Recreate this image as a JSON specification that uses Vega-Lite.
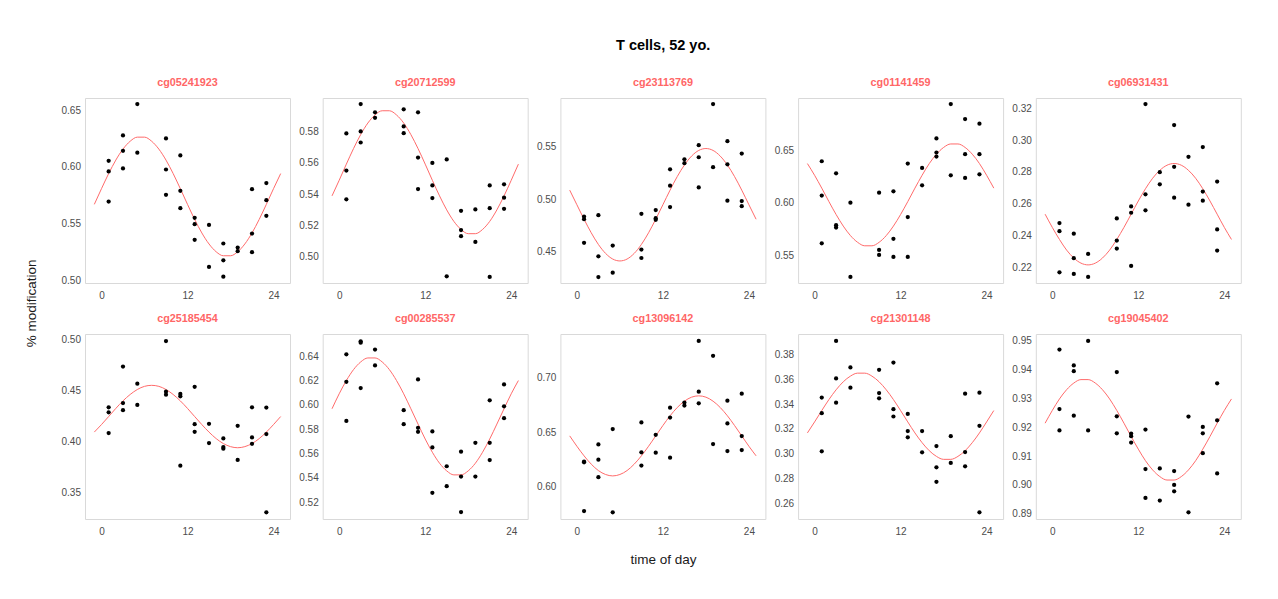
{
  "$schema": "https://vega.github.io/schema/vega-lite/v6.json",
  "padding": {"left": 24, "top": 38, "right": 5, "bottom": 5},
  "background": "#ffffff",
  "title": {"text": "T cells, 52 yo.", "anchor": "middle", "fontSize": 14.5, "fontWeight": "bold", "color": "#000000", "font": "Liberation Sans", "offset": 12, "baseline": "alphabetic", "dx": 30},
  "datasets": {
    "curves": [
      {"t": -1, "cg05241923": 0.5669, "cg20712599": 0.5388, "cg23113769": 0.5085, "cg01141459": 0.6373, "cg06931431": 0.2534, "cg25185454": 0.4094, "cg00285537": 0.5968, "cg13096142": 0.6467, "cg21301148": 0.3168, "cg19045402": 0.9214},
      {"t": 0, "cg05241923": 0.5807, "cg20712599": 0.5488, "cg23113769": 0.4946, "cg01141459": 0.6262, "cg06931431": 0.2451, "cg25185454": 0.4168, "cg00285537": 0.6091, "cg13096142": 0.6372, "cg21301148": 0.3257, "cg19045402": 0.9258},
      {"t": 1, "cg05241923": 0.5940, "cg20712599": 0.5592, "cg23113769": 0.4808, "cg01141459": 0.6140, "cg06931431": 0.2375, "cg25185454": 0.4247, "cg00285537": 0.6200, "cg13096142": 0.6284, "cg21301148": 0.3349, "cg19045402": 0.9298},
      {"t": 2, "cg05241923": 0.6059, "cg20712599": 0.5692, "cg23113769": 0.4679, "cg01141459": 0.6012, "cg06931431": 0.2308, "cg25185454": 0.4327, "cg00285537": 0.6290, "cg13096142": 0.6208, "cg21301148": 0.3438, "cg19045402": 0.9330},
      {"t": 3, "cg05241923": 0.6156, "cg20712599": 0.5782, "cg23113769": 0.4568, "cg01141459": 0.5890, "cg06931431": 0.2258, "cg25185454": 0.4401, "cg00285537": 0.6353, "cg13096142": 0.6149, "cg21301148": 0.3517, "cg19045402": 0.9353},
      {"t": 4, "cg05241923": 0.6225, "cg20712599": 0.5856, "cg23113769": 0.4483, "cg01141459": 0.5780, "cg06931431": 0.2226, "cg25185454": 0.4464, "cg00285537": 0.6386, "cg13096142": 0.6113, "cg21301148": 0.3582, "cg19045402": 0.9365},
      {"t": 5, "cg05241923": 0.6261, "cg20712599": 0.5908, "cg23113769": 0.4429, "cg01141459": 0.5690, "cg06931431": 0.2215, "cg25185454": 0.4513, "cg00285537": 0.6386, "cg13096142": 0.6100, "cg21301148": 0.3628, "cg19045402": 0.9365},
      {"t": 6, "cg05241923": 0.6261, "cg20712599": 0.5935, "cg23113769": 0.4411, "cg01141459": 0.5626, "cg06931431": 0.2226, "cg25185454": 0.4544, "cg00285537": 0.6353, "cg13096142": 0.6113, "cg21301148": 0.3652, "cg19045402": 0.9353},
      {"t": 7, "cg05241923": 0.6225, "cg20712599": 0.5935, "cg23113769": 0.4429, "cg01141459": 0.5593, "cg06931431": 0.2258, "cg25185454": 0.4554, "cg00285537": 0.6290, "cg13096142": 0.6149, "cg21301148": 0.3652, "cg19045402": 0.9330},
      {"t": 8, "cg05241923": 0.6156, "cg20712599": 0.5908, "cg23113769": 0.4483, "cg01141459": 0.5593, "cg06931431": 0.2308, "cg25185454": 0.4544, "cg00285537": 0.6200, "cg13096142": 0.6208, "cg21301148": 0.3628, "cg19045402": 0.9298},
      {"t": 9, "cg05241923": 0.6059, "cg20712599": 0.5856, "cg23113769": 0.4568, "cg01141459": 0.5626, "cg06931431": 0.2375, "cg25185454": 0.4513, "cg00285537": 0.6091, "cg13096142": 0.6284, "cg21301148": 0.3582, "cg19045402": 0.9258},
      {"t": 10, "cg05241923": 0.5940, "cg20712599": 0.5782, "cg23113769": 0.4679, "cg01141459": 0.5690, "cg06931431": 0.2451, "cg25185454": 0.4464, "cg00285537": 0.5968, "cg13096142": 0.6372, "cg21301148": 0.3517, "cg19045402": 0.9214},
      {"t": 11, "cg05241923": 0.5807, "cg20712599": 0.5692, "cg23113769": 0.4808, "cg01141459": 0.5780, "cg06931431": 0.2534, "cg25185454": 0.4401, "cg00285537": 0.5842, "cg13096142": 0.6467, "cg21301148": 0.3438, "cg19045402": 0.9168},
      {"t": 12, "cg05241923": 0.5669, "cg20712599": 0.5592, "cg23113769": 0.4946, "cg01141459": 0.5890, "cg06931431": 0.2617, "cg25185454": 0.4327, "cg00285537": 0.5719, "cg13096142": 0.6562, "cg21301148": 0.3349, "cg19045402": 0.9124},
      {"t": 13, "cg05241923": 0.5536, "cg20712599": 0.5488, "cg23113769": 0.5085, "cg01141459": 0.6012, "cg06931431": 0.2694, "cg25185454": 0.4247, "cg00285537": 0.5610, "cg13096142": 0.6651, "cg21301148": 0.3257, "cg19045402": 0.9084},
      {"t": 14, "cg05241923": 0.5417, "cg20712599": 0.5388, "cg23113769": 0.5214, "cg01141459": 0.6140, "cg06931431": 0.2760, "cg25185454": 0.4168, "cg00285537": 0.5520, "cg13096142": 0.6727, "cg21301148": 0.3168, "cg19045402": 0.9052},
      {"t": 15, "cg05241923": 0.5320, "cg20712599": 0.5298, "cg23113769": 0.5324, "cg01141459": 0.6262, "cg06931431": 0.2810, "cg25185454": 0.4094, "cg00285537": 0.5457, "cg13096142": 0.6785, "cg21301148": 0.3089, "cg19045402": 0.9029},
      {"t": 16, "cg05241923": 0.5251, "cg20712599": 0.5224, "cg23113769": 0.5409, "cg01141459": 0.6373, "cg06931431": 0.2842, "cg25185454": 0.4030, "cg00285537": 0.5424, "cg13096142": 0.6822, "cg21301148": 0.3024, "cg19045402": 0.9017},
      {"t": 17, "cg05241923": 0.5216, "cg20712599": 0.5172, "cg23113769": 0.5463, "cg01141459": 0.6462, "cg06931431": 0.2853, "cg25185454": 0.3981, "cg00285537": 0.5424, "cg13096142": 0.6834, "cg21301148": 0.2978, "cg19045402": 0.9017},
      {"t": 18, "cg05241923": 0.5216, "cg20712599": 0.5145, "cg23113769": 0.5481, "cg01141459": 0.6526, "cg06931431": 0.2842, "cg25185454": 0.3951, "cg00285537": 0.5457, "cg13096142": 0.6822, "cg21301148": 0.2954, "cg19045402": 0.9029},
      {"t": 19, "cg05241923": 0.5251, "cg20712599": 0.5145, "cg23113769": 0.5463, "cg01141459": 0.6559, "cg06931431": 0.2810, "cg25185454": 0.3940, "cg00285537": 0.5520, "cg13096142": 0.6785, "cg21301148": 0.2954, "cg19045402": 0.9052},
      {"t": 20, "cg05241923": 0.5320, "cg20712599": 0.5172, "cg23113769": 0.5409, "cg01141459": 0.6559, "cg06931431": 0.2760, "cg25185454": 0.3951, "cg00285537": 0.5610, "cg13096142": 0.6727, "cg21301148": 0.2978, "cg19045402": 0.9084},
      {"t": 21, "cg05241923": 0.5417, "cg20712599": 0.5224, "cg23113769": 0.5324, "cg01141459": 0.6526, "cg06931431": 0.2694, "cg25185454": 0.3981, "cg00285537": 0.5719, "cg13096142": 0.6651, "cg21301148": 0.3024, "cg19045402": 0.9124},
      {"t": 22, "cg05241923": 0.5536, "cg20712599": 0.5298, "cg23113769": 0.5214, "cg01141459": 0.6462, "cg06931431": 0.2617, "cg25185454": 0.4030, "cg00285537": 0.5842, "cg13096142": 0.6562, "cg21301148": 0.3089, "cg19045402": 0.9168},
      {"t": 23, "cg05241923": 0.5669, "cg20712599": 0.5388, "cg23113769": 0.5085, "cg01141459": 0.6373, "cg06931431": 0.2534, "cg25185454": 0.4094, "cg00285537": 0.5968, "cg13096142": 0.6467, "cg21301148": 0.3168, "cg19045402": 0.9214},
      {"t": 24, "cg05241923": 0.5807, "cg20712599": 0.5488, "cg23113769": 0.4946, "cg01141459": 0.6262, "cg06931431": 0.2451, "cg25185454": 0.4168, "cg00285537": 0.6091, "cg13096142": 0.6372, "cg21301148": 0.3257, "cg19045402": 0.9258},
      {"t": 25, "cg05241923": 0.5940, "cg20712599": 0.5592, "cg23113769": 0.4808, "cg01141459": 0.6140, "cg06931431": 0.2375, "cg25185454": 0.4247, "cg00285537": 0.6200, "cg13096142": 0.6284, "cg21301148": 0.3349, "cg19045402": 0.9298}
    ],
    "points": [
      {"t": 1, "cg05241923": 0.6053, "cg20712599": 0.5789, "cg23113769": 0.4834, "cg01141459": 0.6395, "cg06931431": 0.2478, "cg25185454": 0.4338, "cg00285537": 0.6416, "cg13096142": 0.6231, "cg21301148": 0.3454, "cg19045402": 0.9469},
      {"t": 1, "cg05241923": 0.5959, "cg20712599": 0.5551, "cg23113769": 0.4809, "cg01141459": 0.6070, "cg06931431": 0.2427, "cg25185454": 0.4289, "cg00285537": 0.6190, "cg13096142": 0.6225, "cg21301148": 0.3328, "cg19045402": 0.9263},
      {"t": 1, "cg05241923": 0.5694, "cg20712599": 0.5366, "cg23113769": 0.4583, "cg01141459": 0.5617, "cg06931431": 0.2168, "cg25185454": 0.4084, "cg00285537": 0.5868, "cg13096142": 0.5778, "cg21301148": 0.3019, "cg19045402": 0.9189},
      {"t": 3, "cg05241923": 0.6276, "cg20712599": 0.5978, "cg23113769": 0.4847, "cg01141459": 0.6281, "cg06931431": 0.2411, "cg25185454": 0.4739, "cg00285537": 0.6523, "cg13096142": 0.6389, "cg21301148": 0.3913, "cg19045402": 0.9414},
      {"t": 3, "cg05241923": 0.6141, "cg20712599": 0.5802, "cg23113769": 0.4455, "cg01141459": 0.5789, "cg06931431": 0.2257, "cg25185454": 0.4380, "cg00285537": 0.6512, "cg13096142": 0.6249, "cg21301148": 0.3609, "cg19045402": 0.9394},
      {"t": 3, "cg05241923": 0.5985, "cg20712599": 0.5731, "cg23113769": 0.4258, "cg01141459": 0.5766, "cg06931431": 0.2158, "cg25185454": 0.4309, "cg00285537": 0.6138, "cg13096142": 0.6088, "cg21301148": 0.3413, "cg19045402": 0.9240},
      {"t": 5, "cg05241923": 0.6553, "cg20712599": 0.5925, "cg23113769": 0.4557, "cg01141459": 0.6002, "cg06931431": 0.2284, "cg25185454": 0.4570, "cg00285537": 0.6455, "cg13096142": 0.6529, "cg21301148": 0.3698, "cg19045402": 0.9499},
      {"t": 5, "cg05241923": 0.6124, "cg20712599": 0.5890, "cg23113769": 0.4299, "cg01141459": 0.5297, "cg06931431": 0.2139, "cg25185454": 0.4361, "cg00285537": 0.6324, "cg13096142": 0.5766, "cg21301148": 0.3534, "cg19045402": 0.9189},
      {"t": 9, "cg05241923": 0.6250, "cg20712599": 0.5944, "cg23113769": 0.4860, "cg01141459": 0.6097, "cg06931431": 0.2507, "cg25185454": 0.4990, "cg00285537": 0.5956, "cg13096142": 0.6590, "cg21301148": 0.3679, "cg19045402": 0.9391},
      {"t": 9, "cg05241923": 0.5976, "cg20712599": 0.5834, "cg23113769": 0.4519, "cg01141459": 0.5554, "cg06931431": 0.2368, "cg25185454": 0.4491, "cg00285537": 0.5841, "cg13096142": 0.6316, "cg21301148": 0.3491, "cg19045402": 0.9238},
      {"t": 9, "cg05241923": 0.5753, "cg20712599": 0.5791, "cg23113769": 0.4439, "cg01141459": 0.5506, "cg06931431": 0.2318, "cg25185454": 0.4462, "cg00285537": null, "cg13096142": 0.6195, "cg21301148": 0.3448, "cg19045402": 0.9179},
      {"t": 11, "cg05241923": 0.6100, "cg20712599": 0.5925, "cg23113769": 0.4895, "cg01141459": 0.6110, "cg06931431": 0.2583, "cg25185454": 0.4469, "cg00285537": 0.6209, "cg13096142": 0.6477, "cg21301148": 0.3738, "cg19045402": 0.9178},
      {"t": 11, "cg05241923": 0.5788, "cg20712599": 0.5634, "cg23113769": 0.4818, "cg01141459": 0.5659, "cg06931431": 0.2543, "cg25185454": 0.4446, "cg00285537": 0.5811, "cg13096142": 0.6313, "cg21301148": 0.3360, "cg19045402": 0.9169},
      {"t": 11, "cg05241923": 0.5635, "cg20712599": 0.5432, "cg23113769": 0.4803, "cg01141459": 0.5487, "cg06931431": 0.2208, "cg25185454": 0.3764, "cg00285537": 0.5778, "cg13096142": null, "cg21301148": 0.3301, "cg19045402": 0.9147},
      {"t": 13, "cg05241923": 0.5550, "cg20712599": 0.5600, "cg23113769": 0.5283, "cg01141459": 0.6373, "cg06931431": 0.3227, "cg25185454": 0.4540, "cg00285537": 0.5781, "cg13096142": 0.6726, "cg21301148": 0.3322, "cg19045402": 0.9192},
      {"t": 13, "cg05241923": 0.5494, "cg20712599": 0.5455, "cg23113769": 0.5127, "cg01141459": 0.5865, "cg06931431": 0.2659, "cg25185454": 0.4172, "cg00285537": 0.5650, "cg13096142": 0.6635, "cg21301148": 0.3183, "cg19045402": 0.9055},
      {"t": 13, "cg05241923": 0.5356, "cg20712599": 0.5374, "cg23113769": 0.4924, "cg01141459": 0.5487, "cg06931431": 0.2558, "cg25185454": 0.4097, "cg00285537": 0.5276, "cg13096142": 0.6267, "cg21301148": 0.3132, "cg19045402": 0.8955},
      {"t": 15, "cg05241923": 0.5488, "cg20712599": 0.5622, "cg23113769": 0.5379, "cg01141459": 0.6332, "cg06931431": 0.2798, "cg25185454": 0.4175, "cg00285537": 0.5495, "cg13096142": 0.6772, "cg21301148": 0.3183, "cg19045402": 0.9057},
      {"t": 15, "cg05241923": 0.5118, "cg20712599": 0.4871, "cg23113769": 0.5341, "cg01141459": 0.6167, "cg06931431": 0.2722, "cg25185454": 0.3986, "cg00285537": 0.5331, "cg13096142": 0.6745, "cg21301148": 0.3011, "cg19045402": 0.8946},
      {"t": 17, "cg05241923": 0.5324, "cg20712599": 0.5292, "cg23113769": 0.5513, "cg01141459": 0.6611, "cg06931431": 0.3095, "cg25185454": 0.4032, "cg00285537": 0.5615, "cg13096142": 0.7337, "cg21301148": 0.3062, "cg19045402": 0.9048},
      {"t": 17, "cg05241923": 0.5176, "cg20712599": 0.5168, "cg23113769": 0.5398, "cg01141459": 0.6478, "cg06931431": 0.2832, "cg25185454": 0.3947, "cg00285537": 0.5410, "cg13096142": 0.6872, "cg21301148": 0.2890, "cg19045402": 0.9000},
      {"t": 17, "cg05241923": 0.5032, "cg20712599": 0.5129, "cg23113769": 0.5111, "cg01141459": 0.6440, "cg06931431": 0.2638, "cg25185454": 0.3931, "cg00285537": 0.5118, "cg13096142": 0.6766, "cg21301148": 0.2772, "cg19045402": 0.8978},
      {"t": 19, "cg05241923": 0.5288, "cg20712599": 0.5301, "cg23113769": 0.5904, "cg01141459": 0.6938, "cg06931431": 0.2895, "cg25185454": 0.4156, "cg00285537": 0.5688, "cg13096142": 0.7201, "cg21301148": 0.3142, "cg19045402": 0.9237},
      {"t": 19, "cg05241923": 0.5256, "cg20712599": 0.5092, "cg23113769": 0.5303, "cg01141459": 0.6262, "cg06931431": 0.2594, "cg25185454": 0.3820, "cg00285537": 0.5410, "cg13096142": 0.6392, "cg21301148": 0.2925, "cg19045402": 0.8905},
      {"t": 21, "cg05241923": 0.5803, "cg20712599": 0.5455, "cg23113769": 0.5551, "cg01141459": 0.6795, "cg06931431": 0.2956, "cg25185454": 0.4338, "cg00285537": 0.6037, "cg13096142": 0.6790, "cg21301148": 0.3486, "cg19045402": 0.9201},
      {"t": 21, "cg05241923": 0.5412, "cg20712599": 0.5309, "cg23113769": 0.5331, "cg01141459": 0.6462, "cg06931431": 0.2676, "cg25185454": 0.4041, "cg00285537": 0.5688, "cg13096142": 0.6581, "cg21301148": 0.3013, "cg19045402": 0.9179},
      {"t": 21, "cg05241923": 0.5247, "cg20712599": 0.4867, "cg23113769": 0.4984, "cg01141459": 0.6237, "cg06931431": 0.2619, "cg25185454": 0.3979, "cg00285537": 0.5546, "cg13096142": 0.6328, "cg21301148": 0.2898, "cg19045402": 0.9110},
      {"t": 23, "cg05241923": 0.5856, "cg20712599": 0.5462, "cg23113769": 0.5433, "cg01141459": 0.6751, "cg06931431": 0.2739, "cg25185454": 0.4335, "cg00285537": 0.6168, "cg13096142": 0.6854, "cg21301148": 0.3494, "cg19045402": 0.9352},
      {"t": 23, "cg05241923": 0.5706, "cg20712599": 0.5376, "cg23113769": 0.4981, "cg01141459": 0.6462, "cg06931431": 0.2438, "cg25185454": 0.4074, "cg00285537": 0.5988, "cg13096142": 0.6465, "cg21301148": 0.3226, "cg19045402": 0.9224},
      {"t": 23, "cg05241923": 0.5568, "cg20712599": 0.5305, "cg23113769": 0.4932, "cg01141459": 0.6271, "cg06931431": 0.2305, "cg25185454": 0.3305, "cg00285537": 0.5890, "cg13096142": 0.6337, "cg21301148": 0.2525, "cg19045402": 0.9040}
    ]
  },
  "vconcat": [
    {
      "title": {"text": "% modification", "orient": "left", "anchor": "middle", "fontSize": 13.5, "fontWeight": "normal", "color": "#1a1a1a", "font": "Liberation Sans", "offset": 20, "dx": 18},
      "spacing": 11,
      "vconcat": [
        {
          "spacing": 4.7,
          "hconcat": [
            {"title": "cg05241923", "width": 205, "height": 185,
             "encoding": {"x": {"field": "t", "type": "quantitative", "scale": {"domain": [-2.3, 26.3], "nice": false}, "axis": {"values": [0, 12, 24], "title": null}},
                          "y": {"field": "cg05241923", "type": "quantitative", "scale": {"domain": [0.4976, 0.6606], "nice": false, "zero": false}, "axis": {"values": [0.5, 0.55, 0.6, 0.65], "format": ".2f", "title": null}}},
             "layer": [
               {"data": {"name": "curves"}, "mark": {"type": "line", "interpolate": "monotone", "color": "#ff6b6b", "strokeWidth": 1}},
               {"data": {"name": "points"}, "transform": [{"filter": {"field": "cg05241923", "valid": true}}], "mark": {"type": "circle", "size": 18, "color": "#000000", "opacity": 1}}
             ]},
            {"title": "cg20712599", "width": 205, "height": 185,
             "encoding": {"x": {"field": "t", "type": "quantitative", "scale": {"domain": [-2.3, 26.3], "nice": false}, "axis": {"values": [0, 12, 24], "title": null}},
                          "y": {"field": "cg20712599", "type": "quantitative", "scale": {"domain": [0.4828, 0.6017], "nice": false, "zero": false}, "axis": {"values": [0.5, 0.52, 0.54, 0.56, 0.58], "format": ".2f", "title": null}}},
             "layer": [
               {"data": {"name": "curves"}, "mark": {"type": "line", "interpolate": "monotone", "color": "#ff6b6b", "strokeWidth": 1}},
               {"data": {"name": "points"}, "transform": [{"filter": {"field": "cg20712599", "valid": true}}], "mark": {"type": "circle", "size": 18, "color": "#000000", "opacity": 1}}
             ]},
            {"title": "cg23113769", "width": 205, "height": 185,
             "encoding": {"x": {"field": "t", "type": "quantitative", "scale": {"domain": [-2.3, 26.3], "nice": false}, "axis": {"values": [0, 12, 24], "title": null}},
                          "y": {"field": "cg23113769", "type": "quantitative", "scale": {"domain": [0.4201, 0.5962], "nice": false, "zero": false}, "axis": {"values": [0.45, 0.5, 0.55], "format": ".2f", "title": null}}},
             "layer": [
               {"data": {"name": "curves"}, "mark": {"type": "line", "interpolate": "monotone", "color": "#ff6b6b", "strokeWidth": 1}},
               {"data": {"name": "points"}, "transform": [{"filter": {"field": "cg23113769", "valid": true}}], "mark": {"type": "circle", "size": 18, "color": "#000000", "opacity": 1}}
             ]},
            {"title": "cg01141459", "width": 205, "height": 185,
             "encoding": {"x": {"field": "t", "type": "quantitative", "scale": {"domain": [-2.3, 26.3], "nice": false}, "axis": {"values": [0, 12, 24], "title": null}},
                          "y": {"field": "cg01141459", "type": "quantitative", "scale": {"domain": [0.524, 0.6995], "nice": false, "zero": false}, "axis": {"values": [0.55, 0.6, 0.65], "format": ".2f", "title": null}}},
             "layer": [
               {"data": {"name": "curves"}, "mark": {"type": "line", "interpolate": "monotone", "color": "#ff6b6b", "strokeWidth": 1}},
               {"data": {"name": "points"}, "transform": [{"filter": {"field": "cg01141459", "valid": true}}], "mark": {"type": "circle", "size": 18, "color": "#000000", "opacity": 1}}
             ]},
            {"title": "cg06931431", "width": 205, "height": 185,
             "encoding": {"x": {"field": "t", "type": "quantitative", "scale": {"domain": [-2.3, 26.3], "nice": false}, "axis": {"values": [0, 12, 24], "title": null}},
                          "y": {"field": "cg06931431", "type": "quantitative", "scale": {"domain": [0.2101, 0.3265], "nice": false, "zero": false}, "axis": {"values": [0.22, 0.24, 0.26, 0.28, 0.3, 0.32], "format": ".2f", "title": null}}},
             "layer": [
               {"data": {"name": "curves"}, "mark": {"type": "line", "interpolate": "monotone", "color": "#ff6b6b", "strokeWidth": 1}},
               {"data": {"name": "points"}, "transform": [{"filter": {"field": "cg06931431", "valid": true}}], "mark": {"type": "circle", "size": 18, "color": "#000000", "opacity": 1}}
             ]}
          ]
        },
        {
          "spacing": 4.7,
          "hconcat": [
            {"title": "cg25185454", "width": 205, "height": 185,
             "encoding": {"x": {"field": "t", "type": "quantitative", "scale": {"domain": [-2.3, 26.3], "nice": false}, "axis": {"values": [0, 12, 24], "title": null}},
                          "y": {"field": "cg25185454", "type": "quantitative", "scale": {"domain": [0.3239, 0.5059], "nice": false, "zero": false}, "axis": {"values": [0.35, 0.4, 0.45, 0.5], "format": ".2f", "title": null}}},
             "layer": [
               {"data": {"name": "curves"}, "mark": {"type": "line", "interpolate": "monotone", "color": "#ff6b6b", "strokeWidth": 1}},
               {"data": {"name": "points"}, "transform": [{"filter": {"field": "cg25185454", "valid": true}}], "mark": {"type": "circle", "size": 18, "color": "#000000", "opacity": 1}}
             ]},
            {"title": "cg00285537", "width": 205, "height": 185,
             "encoding": {"x": {"field": "t", "type": "quantitative", "scale": {"domain": [-2.3, 26.3], "nice": false}, "axis": {"values": [0, 12, 24], "title": null}},
                          "y": {"field": "cg00285537", "type": "quantitative", "scale": {"domain": [0.5061, 0.6583], "nice": false, "zero": false}, "axis": {"values": [0.52, 0.54, 0.56, 0.58, 0.6, 0.62, 0.64], "format": ".2f", "title": null}}},
             "layer": [
               {"data": {"name": "curves"}, "mark": {"type": "line", "interpolate": "monotone", "color": "#ff6b6b", "strokeWidth": 1}},
               {"data": {"name": "points"}, "transform": [{"filter": {"field": "cg00285537", "valid": true}}], "mark": {"type": "circle", "size": 18, "color": "#000000", "opacity": 1}}
             ]},
            {"title": "cg13096142", "width": 205, "height": 185,
             "encoding": {"x": {"field": "t", "type": "quantitative", "scale": {"domain": [-2.3, 26.3], "nice": false}, "axis": {"values": [0, 12, 24], "title": "time of day", "titlePadding": 16}},
                          "y": {"field": "cg13096142", "type": "quantitative", "scale": {"domain": [0.5705, 0.7401], "nice": false, "zero": false}, "axis": {"values": [0.6, 0.65, 0.7], "format": ".2f", "title": null}}},
             "layer": [
               {"data": {"name": "curves"}, "mark": {"type": "line", "interpolate": "monotone", "color": "#ff6b6b", "strokeWidth": 1}},
               {"data": {"name": "points"}, "transform": [{"filter": {"field": "cg13096142", "valid": true}}], "mark": {"type": "circle", "size": 18, "color": "#000000", "opacity": 1}}
             ]},
            {"title": "cg21301148", "width": 205, "height": 185,
             "encoding": {"x": {"field": "t", "type": "quantitative", "scale": {"domain": [-2.3, 26.3], "nice": false}, "axis": {"values": [0, 12, 24], "title": null}},
                          "y": {"field": "cg21301148", "type": "quantitative", "scale": {"domain": [0.2471, 0.3969], "nice": false, "zero": false}, "axis": {"values": [0.26, 0.28, 0.3, 0.32, 0.34, 0.36, 0.38], "format": ".2f", "title": null}}},
             "layer": [
               {"data": {"name": "curves"}, "mark": {"type": "line", "interpolate": "monotone", "color": "#ff6b6b", "strokeWidth": 1}},
               {"data": {"name": "points"}, "transform": [{"filter": {"field": "cg21301148", "valid": true}}], "mark": {"type": "circle", "size": 18, "color": "#000000", "opacity": 1}}
             ]},
            {"title": "cg19045402", "width": 205, "height": 185,
             "encoding": {"x": {"field": "t", "type": "quantitative", "scale": {"domain": [-2.3, 26.3], "nice": false}, "axis": {"values": [0, 12, 24], "title": null}},
                          "y": {"field": "cg19045402", "type": "quantitative", "scale": {"domain": [0.8882, 0.9523], "nice": false, "zero": false}, "axis": {"values": [0.89, 0.9, 0.91, 0.92, 0.93, 0.94, 0.95], "format": ".2f", "title": null}}},
             "layer": [
               {"data": {"name": "curves"}, "mark": {"type": "line", "interpolate": "monotone", "color": "#ff6b6b", "strokeWidth": 1}},
               {"data": {"name": "points"}, "transform": [{"filter": {"field": "cg19045402", "valid": true}}], "mark": {"type": "circle", "size": 18, "color": "#000000", "opacity": 1}}
             ]}
          ]
        }
      ]
    }
  ],
  "config": {
    "font": "Liberation Sans",
    "view": {"stroke": "#d9d9d9", "strokeWidth": 1},
    "axis": {"grid": false, "ticks": false, "domain": false, "labelFontSize": 10, "labelColor": "#4d4d4d", "labelFont": "Liberation Sans", "titleFont": "Liberation Sans", "titleFontWeight": "normal", "titleFontSize": 13.5, "titleColor": "#1a1a1a"},
    "axisY": {"labelPadding": 4.5, "minExtent": 26, "maxExtent": 26},
    "axisX": {"labelPadding": 7},
    "title": {"font": "Liberation Sans", "fontSize": 10.8, "fontWeight": "bold", "color": "#ff6666", "offset": 9.8, "baseline": "alphabetic"}
  }
}
